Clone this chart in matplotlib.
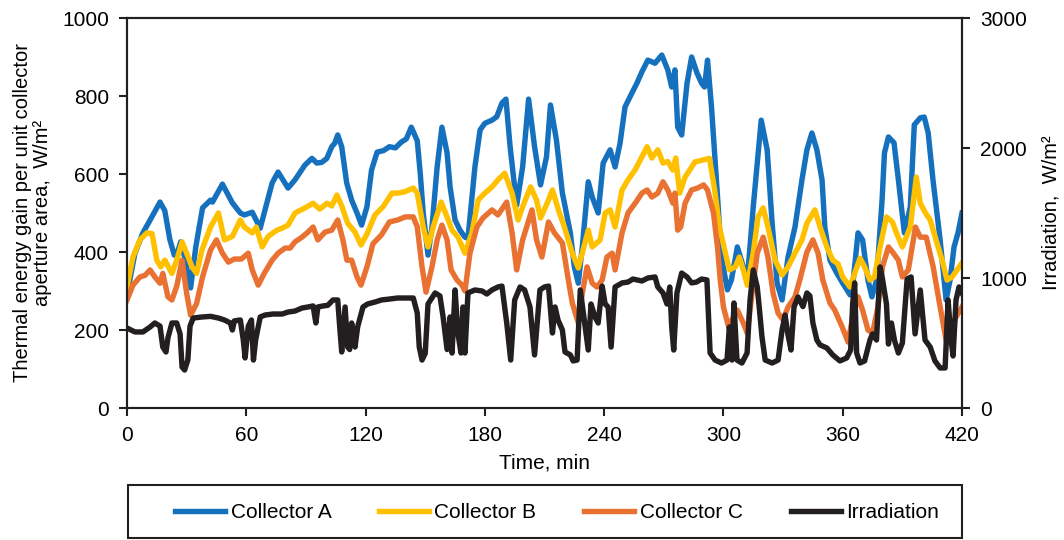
import matplotlib
matplotlib.use("Agg")
import matplotlib.pyplot as plt
from matplotlib.patches import Rectangle

plt.rcParams['font.family'] = ['Liberation Sans', 'DejaVu Sans']

# Collector A (thermal gain, W/m2)
t_a = [0, 4, 8, 12.5, 16.6, 19, 21.6, 23.8, 25.5, 27, 29, 32, 34.6, 38, 42, 43, 48, 53, 57, 59, 63, 67, 73, 76, 81,
       84.5, 89.5, 93, 95.5, 98, 100.5, 103, 104.5, 106, 108, 110.5, 113, 115.7, 118, 120.7, 123, 125.8, 129, 132,
       135, 138, 140.5, 143, 146, 147.5, 149, 151.4, 153.4, 156, 158.4, 161, 162.5, 165, 167.5, 170, 171.5, 175,
       177.6, 180, 183.6, 186, 188.6, 190.6, 192.7, 196, 199, 202, 205, 208, 211, 213, 216, 219, 223, 225, 227, 229,
       232, 234, 237, 239.5, 243, 245.5, 248, 250.5, 254, 256.5, 259, 262, 265.6, 269, 272, 274, 275.6, 277, 279,
       281.7, 284, 286.7, 289, 290.5, 292, 294, 296.8, 299, 302, 304, 307, 310, 312, 315, 319, 322, 324.5, 327,
       329.5, 332.5, 336, 339.5, 342, 344.5, 347, 349.6, 351, 353.6, 357, 360, 363.7, 365, 367.7, 370, 372.7,
       374.7, 377, 379.8, 381, 383, 385.8, 388, 391, 394, 396, 399, 401, 403, 405.4, 409, 412, 414, 416, 418, 420]
col_a = [290, 397, 449, 490, 528, 506, 431, 392, 400, 426, 387, 308, 413, 513, 533, 528, 574, 526, 500, 495, 502,
         461, 577, 605, 564, 585, 623, 640, 628, 630, 640, 670, 679, 700, 670, 577, 533, 500, 469, 516, 610, 656,
         660, 670, 667, 682, 690, 720, 685, 602, 500, 392, 464, 618, 720, 654, 567, 482, 456, 438, 435, 618, 713,
         730, 738, 747, 782, 792, 670, 520, 618, 792, 670, 572, 644, 777, 687, 551, 449, 362, 320, 413, 580, 541,
         500, 628, 662, 618, 679, 772, 808, 833, 862, 892, 884, 905, 867, 823, 867, 720, 700, 833, 900, 859, 833,
         823, 892, 772, 559, 387, 303, 328, 413, 362, 328, 516, 738, 662, 474, 320, 277, 387, 464, 585, 662, 705,
         662, 585, 464, 379, 346, 320, 290, 312, 449, 431, 328, 285, 328, 533, 654, 695, 680, 585, 449, 516, 726,
         744, 746, 705, 585, 431, 277, 328, 413, 449, 500]

# Collector B
t_b = [0, 3, 6.5, 10, 12.6, 15, 17, 19, 22.6, 25, 27.7, 30, 32.7, 35, 37.7, 42, 46, 49, 53, 57, 59, 63, 65, 68, 71,
       75.4, 78, 81, 84.5, 89.5, 93.6, 97, 100.6, 103, 105.6, 108, 111, 114.7, 117.7, 120.7, 124.7, 128.8, 133.3,
       136.5, 140, 144, 146, 149, 151.4, 154, 158, 161, 163.5, 166.5, 170, 173.5, 176.6, 180, 183.6, 186.6, 190,
       193.7, 196.7, 199, 203, 206, 208, 212, 214, 217, 220, 224, 227, 229, 232, 234, 238, 240.5, 243, 245.5, 249,
       252, 255.5, 259, 261.6, 264, 267, 269.6, 272, 274.6, 276, 278, 280.7, 283, 285.7, 289, 293, 295.6, 298, 301,
       303, 306, 308, 310, 312, 315, 317.4, 320, 322.4, 326, 329.5, 332.5, 336, 339.5, 342, 346, 348.6, 352, 355,
       357.6, 360, 363.7, 366, 368.7, 371, 373.7, 376, 378.8, 382, 385, 387, 390, 394, 397, 399, 401.4, 404, 407.4,
       410, 412.5, 415, 417.5, 420]
col_b = [310, 387, 431, 449, 447, 379, 362, 379, 345, 379, 426, 397, 362, 345, 405, 464, 500, 431, 440, 482, 464,
         449, 464, 413, 440, 456, 461, 469, 500, 513, 525, 510, 525, 518, 546, 518, 474, 451, 418, 446, 495, 516,
         551, 551, 555, 564, 551, 464, 413, 464, 528, 490, 456, 438, 397, 449, 533, 551, 567, 585, 602, 551, 482,
         516, 567, 533, 487, 533, 559, 508, 464, 397, 359, 397, 456, 413, 431, 500, 508, 464, 559, 585, 610, 644,
         670, 641, 662, 628, 632, 610, 641, 551, 592, 610, 631, 635, 640, 559, 464, 397, 354, 362, 387, 354, 315,
         397, 490, 513, 464, 379, 341, 362, 397, 431, 474, 508, 464, 413, 379, 370, 336, 310, 345, 384, 362, 328,
         336, 413, 490, 477, 449, 413, 464, 592, 525, 502, 482, 423, 379, 328, 336, 354, 372]

# Collector C
t_c = [0, 3, 6.5, 9, 11.6, 14, 16.6, 18, 20.6, 22.6, 25, 27.7, 30, 32, 35, 38, 42, 45, 48, 51, 54, 57.5, 61, 63, 66,
       69, 73, 76, 79.5, 82, 84.5, 88, 91, 93.6, 96, 99.6, 103, 106, 108.6, 110.6, 113, 115.7, 117.7, 120.7, 123.7,
       128, 132, 136, 140, 144, 146, 148.4, 150.4, 153.4, 156, 158.4, 161, 163, 166, 168.5, 170, 172.5, 176, 179,
       183.6, 186.6, 191, 193.7, 196, 199, 203.7, 206, 208.7, 212, 215, 219, 222, 224, 227, 229, 231.4, 234, 236.4,
       239, 241.4, 244, 245.5, 249, 252, 256, 259, 261.6, 264, 267, 269.6, 272, 274.6, 275.6, 277, 278.5, 280.7,
       284, 287, 290, 292, 295, 297, 298.4, 300, 302.6, 305, 307, 310, 312, 314.4, 317, 320, 322.4, 325, 327.5,
       330, 332.5, 336, 338.5, 342, 345, 347.6, 350, 353.6, 356, 359.7, 362.7, 365, 367.7, 370, 372.7, 375, 377.7,
       380, 383, 385.5, 388, 390, 393, 396.6, 399, 402, 405.5, 409, 412, 414.5, 417, 420]
col_c = [277, 315, 336, 340, 354, 336, 320, 345, 285, 277, 312, 379, 294, 238, 268, 336, 405, 431, 397, 374, 382,
         382, 397, 354, 315, 345, 379, 397, 410, 410, 426, 438, 451, 464, 431, 451, 456, 482, 431, 379, 379, 336,
         315, 362, 421, 444, 477, 482, 490, 490, 464, 362, 297, 362, 431, 469, 431, 354, 328, 315, 300, 397, 464,
         487, 508, 495, 528, 449, 354, 431, 508, 431, 387, 477, 449, 423, 328, 269, 218, 294, 362, 320, 310, 328,
         387, 397, 354, 449, 500, 528, 551, 559, 541, 551, 580, 559, 525, 551, 456, 464, 525, 559, 564, 572, 559,
         500, 413, 328, 259, 208, 233, 251, 218, 192, 294, 397, 438, 387, 294, 243, 226, 259, 285, 330, 400, 431,
         397, 328, 269, 251, 208, 169, 233, 285, 251, 200, 192, 259, 362, 413, 397, 379, 336, 354, 464, 438, 438,
         362, 259, 174, 200, 233, 259]

# Irradiation (W/m2, right axis)
t_irr = [0, 4, 8, 11.6, 14, 16.6, 18, 19.6, 20.6, 22.6, 25, 26.7, 27.7, 29, 30.6, 31.7, 33.3, 37.7, 42, 46, 49, 52, 53,
         54, 57, 58.5, 59.4, 61, 62.6, 63.6, 64.7, 67, 69.4, 73.4, 78, 81, 84.5, 88, 91, 93.6, 95, 96, 98.6, 101,
         103.6, 106, 107, 108, 109.7, 111, 112, 113, 114.7, 116, 118.7, 121, 124.7, 128, 132, 136, 140, 144, 146,
         147, 148.4, 150, 151.4, 155, 157.4, 159, 161, 162.5, 163.5, 165, 166.5, 168, 169, 170, 171.5, 175, 178.6,
         181, 183.6, 186.6, 188.6, 191, 193, 195, 197.7, 200, 202.7, 205, 207.7, 210, 212, 214, 215.3, 216.8, 219,
         220.3, 223, 224.4, 226.4, 228, 230, 232, 233.4, 235.4, 237, 239, 240.5, 242, 243.5, 245.5, 249, 252, 254.5,
         259, 262, 265.6, 267, 269.6, 271.6, 273, 274, 275, 276.6, 279, 281.7, 284, 286.5, 289, 291.7, 293.3, 295.8,
         299, 301.8, 303, 304.3, 305.3, 306.8, 309.3, 311.9, 313.4, 315, 317, 318, 319.4, 321, 324.5, 327.5, 329.5,
         331, 332.5, 334, 335.5, 337.5, 340, 342, 343.5, 345, 347, 348.6, 352, 355, 358.6, 362, 364, 365, 366, 367,
         368.7, 371, 373.7, 375, 377, 378.8, 380, 382, 383, 384.5, 386, 388, 390, 392.4, 394.4, 396.4, 399, 401.4,
         404, 406.4, 409, 411.5, 413, 414.5, 415.5, 417, 418.5, 420]
irr = [615, 585, 585, 623, 654, 630, 469, 431, 540, 654, 654, 570, 315, 292, 370, 630, 692, 700, 705, 692, 677, 654,
       600, 670, 677, 523, 385, 630, 677, 369, 523, 700, 715, 723, 723, 738, 746, 769, 777, 785, 654, 777, 785, 790,
       831, 831, 623, 431, 777, 469, 450, 654, 469, 623, 777, 800, 815, 831, 838, 846, 846, 846, 731, 469, 369, 420,
       800, 885, 862, 700, 450, 700, 423, 908, 570, 423, 777, 423, 885, 908, 900, 877, 908, 931, 938, 654, 369, 831,
       931, 908, 777, 408, 908, 931, 938, 577, 777, 677, 600, 431, 408, 362, 369, 908, 677, 446, 800, 700, 654, 938,
       800, 777, 469, 931, 962, 969, 992, 977, 1000, 1008, 931, 885, 800, 931, 623, 446, 885, 1038, 1008, 962, 969,
       992, 985, 423, 369, 346, 369, 623, 369, 808, 369, 346, 423, 831, 1062, 931, 777, 546, 369, 346, 369, 600, 715,
       562, 446, 777, 854, 780, 885, 862, 654, 523, 485, 462, 408, 362, 385, 446, 800, 962, 423, 346, 362, 523, 570,
       523, 1085, 992, 800, 492, 654, 523, 423, 500, 992, 1008, 570, 908, 523, 469, 362, 308, 308, 831, 523, 400,
       831, 931, 885]

x_ticks = [0, 60, 120, 180, 240, 300, 360, 420]

fig = plt.figure(figsize=(10.64, 5.4), dpi=100)
ax = fig.add_axes([127 / 1064, 1 - 408 / 540, 835 / 1064, 390 / 540])
ax2 = ax.twinx()

lw = 3.9
l1, = ax.plot(t_a, col_a, color='#1570BE', lw=lw, label='Collector A', solid_joinstyle='round')
l2, = ax.plot(t_b, col_b, color='#FFC000', lw=lw, label='Collector B', solid_joinstyle='round')
l3, = ax.plot(t_c, col_c, color='#E97132', lw=lw, label='Collector C', solid_joinstyle='round')
l4, = ax2.plot(t_irr, irr, color='#231F20', lw=lw, label='Irradiation', solid_joinstyle='round')

ax.set_xlim(0, 420)
ax.set_ylim(0, 1000)
ax2.set_ylim(0, 3000)
ax.set_xticks(x_ticks)
ax.set_yticks(range(0, 1001, 200))
ax2.set_yticks(range(0, 3001, 1000))

fs = 15
for a in (ax, ax2):
    for s in a.spines.values():
        s.set_linewidth(1.5)
        s.set_color('#231F20')
    a.tick_params(labelsize=fs, width=1.5, length=6, direction='out', color='#231F20', pad=7)

ax.set_xlabel('Time, min', fontsize=fs, labelpad=6)
ax.set_ylabel('Thermal energy gain per unit collector\naperture area,  W/m²', fontsize=14.5, linespacing=1.05)
ax.yaxis.set_label_coords(-0.09, 0.5)
ax2.set_ylabel('Irradiation,  W/m²', fontsize=14.5)
ax2.yaxis.set_label_coords(1.095, 0.5)

# legend box under the plot
fig.add_artist(Rectangle((128 / 1064, 0.003), 834 / 1064, 1 - 485 / 540 - 0.003, transform=fig.transFigure,
                         fill=False, edgecolor='#231F20', lw=1.5))
fig.legend(handles=[l1, l2, l3, l4], loc='center', bbox_to_anchor=(557 / 1064, 1 - 513 / 540), ncol=4,
           frameon=False, fontsize=fs, handlelength=2.4, handletextpad=0.25, columnspacing=2.3)

fig.savefig('out.png', dpi=100)
